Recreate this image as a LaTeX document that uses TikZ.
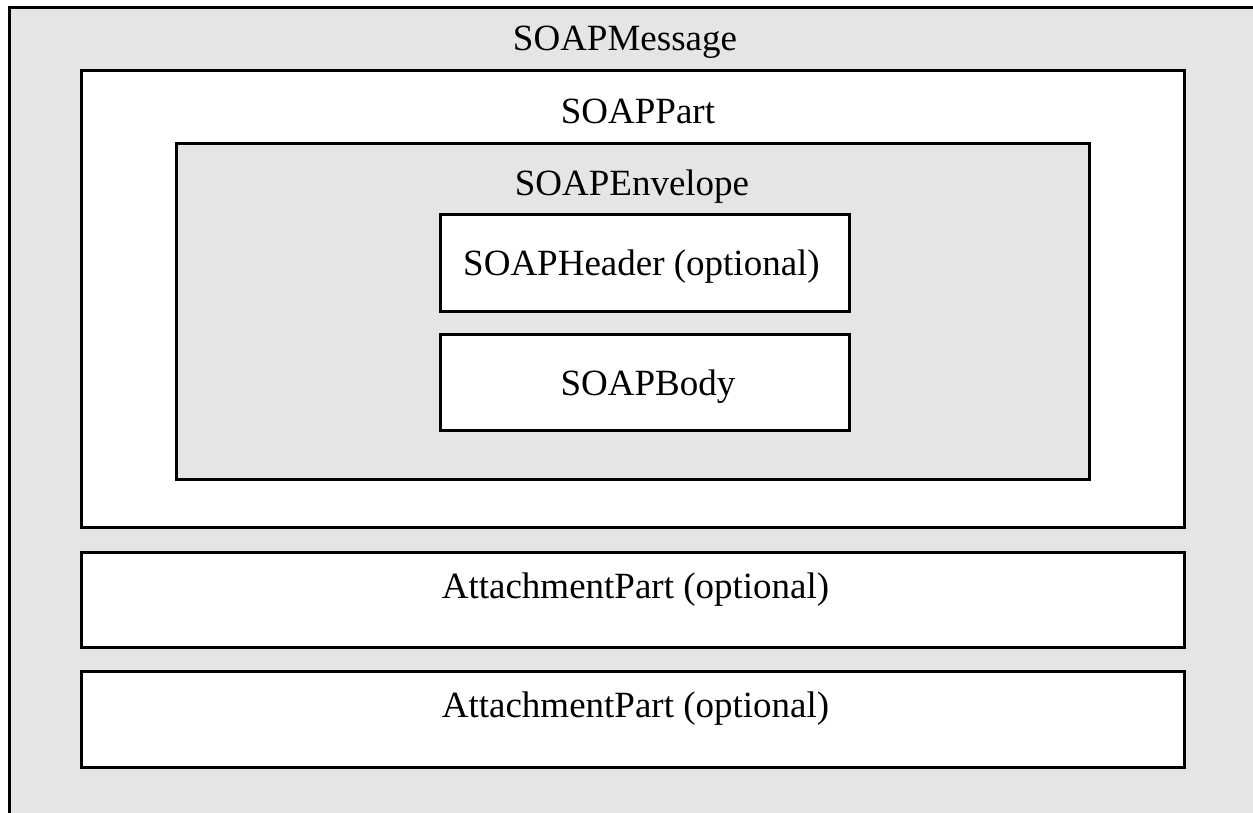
\documentclass[tikz,border=0pt]{standalone}
\usepackage{fontspec}
\setmainfont{Liberation Serif}
\definecolor{boxgray}{HTML}{E5E5E5}
\tikzset{
  frame/.style={draw=black, line width=2.6pt, rectangle, anchor=north west, inner sep=0pt},
  graybox/.style={frame, fill=boxgray},
  whitebox/.style={frame, fill=white},
  label/.style={anchor=base, inner sep=0pt, font=\fontsize{37}{44}\selectfont}
}
\begin{document}
\begin{tikzpicture}[x=1pt,y=-1pt]
\useasboundingbox (0,0) rectangle (1253,812);
\clip (0,0) rectangle (1253,812);
\node[graybox, minimum width=1262pt, minimum height=824pt] (msg) at (8,6) {};
\node[whitebox, minimum width=1103pt, minimum height=457pt] (part) at (80,69) {};
\node[graybox, minimum width=913pt, minimum height=336pt] (env) at (175,142) {};
\node[whitebox, minimum width=409pt, minimum height=97pt] (hdr) at (439,213) {};
\node[whitebox, minimum width=409pt, minimum height=96pt] (body) at (439,333) {};
\node[whitebox, minimum width=1103pt, minimum height=95pt] (att1) at (80,551) {};
\node[whitebox, minimum width=1103pt, minimum height=96pt] (att2) at (80,670) {};
\node[label] (tmsg) at (625,50) {SOAPMessage};
\node[label] (tpart) at (638,123) {SOAPPart};
\node[label] (tenv) at (632,195) {SOAPEnvelope};
\node[label] (thdr) at (641.5,275) {SOAPHeader (optional)};
\node[label] (tbody) at (648,395) {SOAPBody};
\node[label] (tatt1) at (635.5,598) {AttachmentPart (optional)};
\node[label] (tatt2) at (635.5,717) {AttachmentPart (optional)};
\end{tikzpicture}
\end{document}
